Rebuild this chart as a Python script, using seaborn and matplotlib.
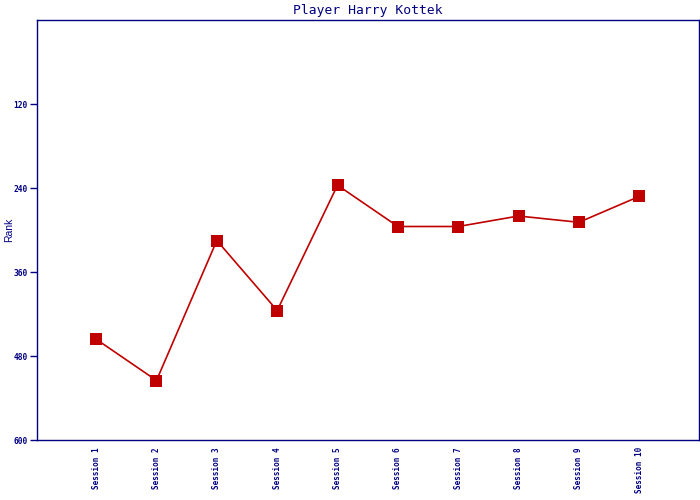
import matplotlib
matplotlib.use("Agg")
import matplotlib.pyplot as plt
import seaborn as sns
import pandas as pd

sessions = ["Session 1", "Session 2", "Session 3", "Session 4", "Session 5",
            "Session 6", "Session 7", "Session 8", "Session 9", "Session 10"]
ranks = [456, 515, 315, 415, 236, 295, 295, 280, 289, 252]
y_ticks = [120, 240, 360, 480, 600]

navy = "#000080"
red = "#c00000"

sns.set_style("white")
plt.rcParams["font.family"] = ["DejaVu Sans Mono", "DejaVu Sans"]

df = pd.DataFrame({"session": sessions, "rank": ranks, "pos": range(len(sessions))})

fig = plt.figure(figsize=(7, 5), dpi=100)
ax = fig.add_axes([37 / 700, 0.12, 662 / 700, 0.84])
sns.lineplot(data=df, x="pos", y="rank", ax=ax, color=red, linewidth=1.2,
             marker="s", markersize=8.5, markeredgewidth=0, markerfacecolor=red)

ax.set_xlim(-0.98, 9.99)
ax.set_ylim(600, 0)
ax.set_yticks(y_ticks)
ax.set_yticklabels([str(t) for t in y_ticks], fontsize=5.7, color=navy, fontweight="bold")
ax.set_xticks(range(len(sessions)))
ax.set_xticklabels(sessions, rotation=90, fontsize=5.5, color=navy, fontweight="bold")
ax.tick_params(axis="y", direction="out", length=5, width=1, color=navy, left=True, pad=1.5)
ax.tick_params(axis="x", length=0, pad=5)
ax.set_xlabel("")
ax.set_ylabel("Rank", color=navy, fontsize=7.5, family=["Liberation Sans", "DejaVu Sans"])
ax.yaxis.set_label_coords(-0.034, 0.5)
ax.set_title("Player Harry Kottek", color=navy, fontsize=9.4, pad=4)
for s in ax.spines.values():
    s.set_color(navy)
    s.set_linewidth(1)
    s.set_visible(True)
ax.grid(False)

fig.savefig("out.png", dpi=100)
